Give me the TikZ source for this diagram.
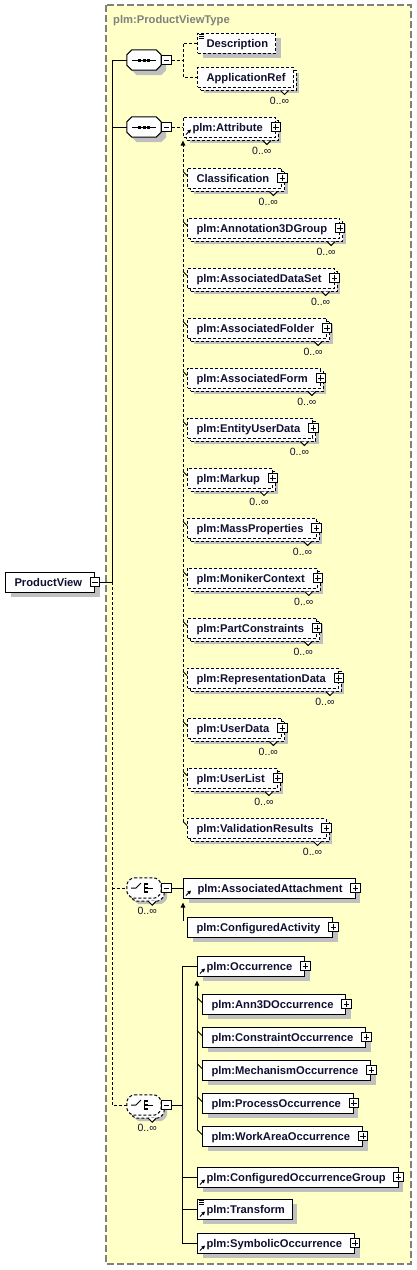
\documentclass[tikz,border=0pt]{standalone}
\usepackage{fontspec}
\setmainfont{Liberation Sans}
\usetikzlibrary{arrows.meta,calc,shadows}

\definecolor{paneyellow}{HTML}{FFFFC8}
\definecolor{panegray}{HTML}{808080}
\definecolor{shadegray}{HTML}{C0C0C0}
\definecolor{inktext}{HTML}{101030}

\newcommand\elemfont{\fontsize{11.2}{13}\selectfont\bfseries}
\newcommand\cardfont{\fontsize{10.5}{12}\selectfont}
% octagon outline round a compositor node
\newcommand\octagon[2]{%
  \path[#1] ($(#2.north west)+(5,0)$) -- ($(#2.north east)+(-5,0)$) -- ($(#2.north east)+(0,5)$)
    -- ($(#2.south east)+(0,-5)$) -- ($(#2.south east)+(-5,0)$) -- ($(#2.south west)+(5,0)$)
    -- ($(#2.south west)+(0,-5)$) -- ($(#2.north west)+(0,5)$) -- cycle;}

\tikzset{
  conn/.style={line width=1pt},
  opt/.style={dash pattern=on 3pt off 2pt},
  frame/.style={draw=panegray, fill=paneyellow, line width=1.5pt, dash pattern=on 7pt off 3pt},
  typetitle/.style={anchor=west, inner sep=0pt, font=\elemfont, text=panegray, text height=8pt, text depth=0pt},
  box/.style={draw, fill=white, line width=1pt, anchor=west, minimum height=20pt,
    inner xsep=0pt, inner ysep=0pt, text height=8pt, text depth=0pt, font=\elemfont, text=inktext,
    execute at begin node={\hspace*{9pt}}, execute at end node={\hspace*{#1}}},
  box/.default=12.5pt,
  elem/.style={box=#1, drop shadow={shadow xshift=5pt, shadow yshift=-5pt, fill=shadegray, opacity=1}},
  elem/.default=12.5pt,
  multi/.style={box=#1, drop shadow={shadow xshift=6pt, shadow yshift=-6pt, fill=shadegray, opacity=1},
    copy shadow={shadow xshift=3pt, shadow yshift=-3pt, draw=black, fill=white, line width=1pt, dash pattern=on 3pt off 2pt}},
  multi/.default=12.5pt,
  compo/.style={minimum width=34pt, minimum height=20pt, inner sep=0pt},
  seqline/.style={draw, fill=white, line width=1pt,
    drop shadow={shadow xshift=5pt, shadow yshift=-5pt, fill=shadegray, opacity=1}},
  choiceline/.style={draw, fill=white, line width=1pt, opt, rounded corners=2.5pt,
    drop shadow={shadow xshift=6pt, shadow yshift=-6pt, fill=shadegray, opacity=1},
    copy shadow={shadow xshift=3pt, shadow yshift=-3pt, draw=black, fill=white, line width=1pt, dash pattern=on 3pt off 2pt}},
  plusbox/.style={draw, fill=white, line width=1pt, minimum size=9.5pt, inner sep=0pt,
    path picture={\draw[line width=1pt] ([xshift=2pt]path picture bounding box.west) -- ([xshift=-2pt]path picture bounding box.east)
      ([yshift=-2pt]path picture bounding box.north) -- ([yshift=2pt]path picture bounding box.south);}},
  minusbox/.style={draw, fill=white, line width=1pt, minimum size=9.5pt, inner sep=0pt,
    path picture={\draw[line width=1pt] ([xshift=2pt]path picture bounding box.west) -- ([xshift=-2pt]path picture bounding box.east);}},
  card/.style={inner sep=0pt, font=\cardfont, text=inktext},
  notch/.style={line width=1pt, fill=white},
  subtip/.style={-{Triangle[width=4.5pt,length=5pt]}},
  reftip/.style={line width=1pt, -{Triangle[width=3.5pt,length=3.5pt]}}
}

\begin{document}
\begin{tikzpicture}[x=1pt,y=-1pt]
  \useasboundingbox (0,0) rectangle (417,1270);

  % Complex type frame
  \draw[frame] (106,5) rectangle (411,1264);
  \node[typetitle] (typename) at (113,19) {plm:ProductViewType};

  % Root element
  \node[elem] (pview) at (5,582) {ProductView};
  \node[minusbox] (tgpview) at (pview.east) {};

  % Compositors
  \node[compo] (seqA) at (144,60) {};
  \node[compo] (seqB) at (144,127) {};
  \node[compo] (choiceA) at (144,888) {};
  \node[compo] (choiceB) at (144,1105) {};
  \octagon{seqline}{seqA}
  \octagon{seqline}{seqB}
  \octagon{choiceline}{choiceA}
  \octagon{choiceline}{choiceB}
  \node[minusbox,anchor=west] (tgseqA) at (seqA.east) {};
  \node[minusbox,anchor=west] (tgseqB) at (seqB.east) {};
  \node[minusbox,anchor=west] (tgchoiceA) at (choiceA.east) {};
  \node[minusbox,anchor=west] (tgchoiceB) at (choiceB.east) {};

  \foreach \nm in {seqA,seqB} {
    \draw[conn] ($(\nm.center)+(-12,0)$) -- ($(\nm.center)+(12,0)$);
    \foreach \dx in {-4.5,0,4.5}
      \fill ($(\nm.center)+(\dx-1.5,-1.5)$) rectangle ++(3,3);
  }
  \foreach \nm in {choiceA,choiceB} {
    \draw[conn] ($(\nm.center)+(-13,0)$) -- ++(5,0) -- ++(5,-5);
    \draw[conn] ($(\nm.center)+(0,-5)$) -- ++(0,10);
    \draw[conn] ($(\nm.center)+(4,0)$) -- ++(5,0);
    \foreach \dy in {-4,0,4}
      \fill ($(\nm.center)+(1,\dy-1)$) rectangle ++(3,2);
  }

  % First sequence
  \node[elem=7.5pt,opt] (desc) at (197,43) {Description};
  \node[multi=7.5pt,opt] (appref) at (197,77) {ApplicationRef};

  % Second sequence: substitution group
  \node[multi,opt] (attr) at (183,127) {plm:Attribute};
  \node[plusbox] (tgattr) at (attr.east) {};
  \foreach \nm/\txt [count=\i from 0] in {classif/Classification, annot/plm:Annotation3DGroup,
      dataset/plm:AssociatedDataSet, folder/plm:AssociatedFolder, form/plm:AssociatedForm,
      entity/plm:EntityUserData, markup/plm:Markup, mass/plm:MassProperties,
      moniker/plm:MonikerContext, partcons/plm:PartConstraints, repdata/plm:RepresentationData,
      userdata/plm:UserData, userlist/plm:UserList, validres/plm:ValidationResults} {
    \node[multi,opt] (\nm) at (187,{178+50*\i}) {\txt};
    \node[plusbox] (tg\nm) at (\nm.east) {};
    \draw[conn] ([shift={(-4,4)}]\nm.north west) -- ++(4,4);
  }

  % First choice
  \node[elem] (attach) at (183,888) {\hspace*{5pt}plm:AssociatedAttachment};
  \node[plusbox] (tgattach) at (attach.east) {};
  \node[elem] (confact) at (187,927) {plm:ConfiguredActivity};
  \node[plusbox] (tgconfact) at (confact.east) {};

  % Second choice
  \node[elem] (occ) at (197,966) {plm:Occurrence};
  \node[plusbox] (tgocc) at (occ.east) {};
  \foreach \nm/\txt [count=\i from 0] in {ann3d/plm:Ann3DOccurrence, consocc/plm:ConstraintOccurrence,
      mechocc/plm:MechanismOccurrence, prococc/plm:ProcessOccurrence, workocc/plm:WorkAreaOccurrence} {
    \node[elem] (\nm) at (202,{1004+33*\i}) {\txt};
    \node[plusbox] (tg\nm) at (\nm.east) {};
    \draw[conn] ([shift={(-5,4)}]\nm.north west) -- ++(5,5);
  }
  \node[elem] (confgrp) at (197,1177) {plm:ConfiguredOccurrenceGroup};
  \node[plusbox] (tgconfgrp) at (confgrp.east) {};
  \node[elem=7.5pt] (transform) at (197,1209) {plm:Transform};
  \node[elem] (symbocc) at (197,1243) {plm:SymbolicOccurrence};
  \node[plusbox] (tgsymbocc) at (symbocc.east) {};

  % Occurrence marks
  \foreach \nm in {appref,attr,classif,annot,dataset,folder,form,entity,markup,mass,
      moniker,partcons,repdata,userdata,userlist,validres,choiceA,choiceB} {
    \draw[notch] ($(\nm.south -| \nm.east)+(-13,3)$) -- ++(4,4) -- ++(4,-4);
    \node[card] (card\nm) at ($(\nm.south -| \nm.east)+(-14,13)$) {0..∞};
  }

  % Reference and simple content icons
  \foreach \nm in {attr,attach,occ,confgrp,transform,symbocc}
    \draw[reftip] ([shift={(3,-3)}]\nm.south west) -- ++(5,-5);
  \foreach \nm in {desc,transform}
    \foreach \dy in {2,4,6}
      \draw[line width=0.8pt] ([shift={(2,\dy)}]\nm.north west) -- ++(5,0);

  % Trunk
  \coordinate (trunk) at (112,582);
  \draw[conn] (tgpview.east) -- (trunk);
  \draw[conn] (trunk) -- (trunk |- seqA.west) -- (seqA.west);
  \draw[conn] (trunk |- seqB.west) -- (seqB.west);
  \draw[conn,opt] (trunk) -- (trunk |- choiceB.west) -- (choiceB.west);
  \draw[conn,opt] (trunk |- choiceA.west) -- (choiceA.west);

  % Sequence branches
  \coordinate (forkA) at (183,60);
  \draw[conn,opt] (tgseqA.east) -- (forkA);
  \draw[conn,opt] (desc.west) -- (desc.west -| forkA) -- (appref.west -| forkA) -- (appref.west);
  \draw[conn,opt] (tgseqB.east) -- (attr.west);
  \draw[conn,opt,subtip] ([shift={(-4,4)}]validres.north west) -- ([shift={(0,3)}]attr.south west);

  % Choice branches
  \draw[conn] (tgchoiceA.east) -- (attach.west);
  \draw[conn,subtip] ([shift={(-4,4)}]confact.north west) -- ([shift={(0,4)}]attach.south west);
  \coordinate (forkC) at (182,1105);
  \draw[conn] (tgchoiceB.east) -- (forkC);
  \draw[conn] (occ.west) -- (occ.west -| forkC) -- (symbocc.west -| forkC) -- (symbocc.west);
  \draw[conn] (confgrp.west -| forkC) -- (confgrp.west);
  \draw[conn] (transform.west -| forkC) -- (transform.west);
  \draw[conn,subtip] ([shift={(-5,4)}]workocc.north west) -- ([shift={(0,4)}]occ.south west);
\end{tikzpicture}
\end{document}
